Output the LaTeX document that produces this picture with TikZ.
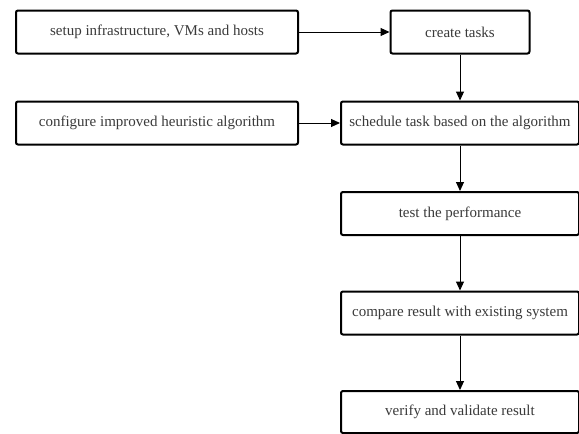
\documentclass[tikz,border=0pt]{standalone}
\usepackage{fontspec}
\setmainfont{Liberation Serif}
\usetikzlibrary{arrows.meta}
\definecolor{txt}{HTML}{3A3A3A}
\begin{document}
\begin{tikzpicture}[x=1pt,y=-1pt,
  stepbox/.style={draw=black,line width=2pt,rounded corners=2pt,fill=white,
    text=txt,font=\fontsize{15}{17}\selectfont,inner sep=0pt,anchor=north west},
  flow/.style={draw=black,line width=1pt,-{Triangle[length=9pt,width=8pt]}}]
\useasboundingbox (0,0) rectangle (579,434);
\node[stepbox,minimum width=282pt,minimum height=43pt] (setup) at (15,9.5) {setup infrastructure, VMs and hosts};
\node[stepbox,minimum width=139pt,minimum height=43pt] (create) at (389.5,9.5) {create tasks};
\node[stepbox,minimum width=282pt,minimum height=43pt] (config) at (15,100.5) {configure improved heuristic algorithm};
\node[stepbox,minimum width=238pt,minimum height=43pt] (sched) at (340,100.5) {schedule task based on the algorithm};
\node[stepbox,minimum width=238pt,minimum height=43pt] (test) at (340,191) {test the performance};
\node[stepbox,minimum width=238pt,minimum height=43pt] (comp) at (340,290.5) {compare result with existing system};
\node[stepbox,minimum width=238pt,minimum height=42pt] (verif) at (340,390) {verify and validate result};
\draw[flow] (setup) -- (create);
\draw[flow] (config) -- (sched);
\draw[flow] (create) -- (sched);
\draw[flow] (sched) -- (test);
\draw[flow] (test) -- (comp);
\draw[flow] (comp) -- (verif);
\end{tikzpicture}
\end{document}
